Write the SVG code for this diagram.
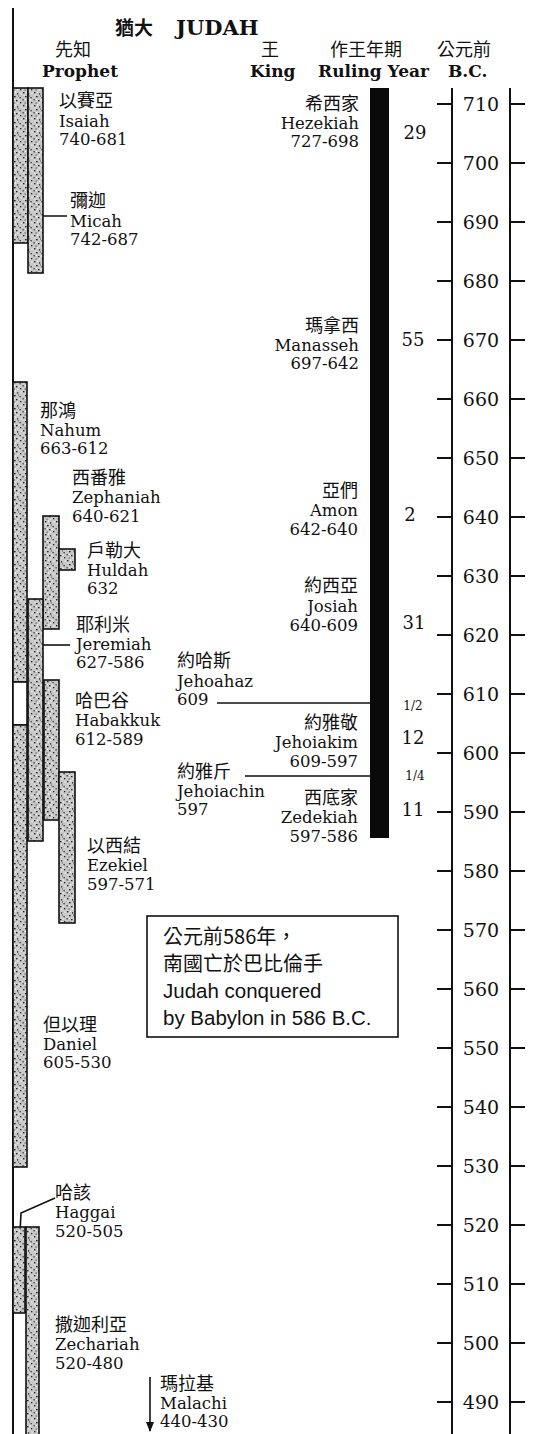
<svg xmlns="http://www.w3.org/2000/svg" width="540" height="1434" viewBox="0 0 540 1434">
<style>
.cn{font-family:"Noto Sans CJK TC","Noto Sans CJK SC",sans-serif;font-size:18px;fill:#111}
.en{font-family:"DejaVu Serif","Liberation Serif",serif;font-size:16.5px;fill:#111}
.hb{font-family:"DejaVu Serif","Liberation Serif",serif;font-weight:bold;font-size:17px;fill:#111}
.hc{font-family:"Noto Sans CJK TC","Noto Sans CJK SC",sans-serif;font-size:18px;fill:#111}
.yr{font-family:"DejaVu Serif","Liberation Serif",serif;font-size:19px;fill:#111;text-anchor:middle}
.ry{font-family:"DejaVu Serif","Liberation Serif",serif;font-size:18px;fill:#111;text-anchor:middle}
.rs{font-family:"DejaVu Serif","Liberation Serif",serif;font-size:12px;fill:#111;text-anchor:middle}
.r{text-anchor:end}
.bar{fill:url(#stip);stroke:#111;stroke-width:1.6}
.gap{fill:#fff;stroke:#111;stroke-width:1.6}
.ln{stroke:#111;stroke-width:1.6;fill:none}
.ax{stroke:#111;stroke-width:2;fill:none}
.nt{font-family:"Liberation Sans","Noto Sans CJK TC",sans-serif;font-size:20.5px;fill:#111}
.ntc{font-family:"Noto Sans CJK TC","Noto Sans CJK SC",sans-serif;font-size:20px;fill:#111}
</style>
<defs>
<pattern id="stip" width="11" height="13" patternUnits="userSpaceOnUse">
<rect width="11" height="13" fill="#c8c8c8"/>
<rect x="1" y="1" width="1.4" height="1.4" fill="#222"/>
<rect x="6" y="2" width="1.2" height="1.7" fill="#444"/>
<rect x="3" y="5" width="1.6" height="1.3" fill="#222"/>
<rect x="8.5" y="6" width="1.3" height="1.3" fill="#333"/>
<rect x="0.5" y="8" width="1.3" height="1.5" fill="#444"/>
<rect x="5" y="9" width="1.5" height="1.3" fill="#222"/>
<rect x="9" y="11" width="1.3" height="1.3" fill="#222"/>
<rect x="2.5" y="11.5" width="1.3" height="1.1" fill="#555"/>
<rect x="7" y="4.5" width="1" height="1" fill="#555"/>
<rect x="4" y="0.5" width="1.2" height="1.2" fill="#fff"/>
<rect x="9.5" y="1.5" width="1" height="1.2" fill="#fff"/>
<rect x="1.5" y="3.5" width="1.1" height="1" fill="#fff"/>
<rect x="7.5" y="8.5" width="1.2" height="1.2" fill="#fff"/>
<rect x="3" y="8" width="1" height="1" fill="#fff"/>
<rect x="6" y="11.5" width="1.2" height="1" fill="#fff"/>
</pattern>
<marker id="arr" markerWidth="10" markerHeight="8" refX="9" refY="4" orient="auto" markerUnits="userSpaceOnUse" viewBox="0 0 10 8">
<path d="M0,0 L10,4 L0,8 Z" fill="#111"/>
</marker>
</defs>

<g id="header">
<text x="115" y="35" class="hc" style="font-weight:bold;font-size:19px">猶大</text>
<text x="176" y="35" class="hb" style="font-size:21px">JUDAH</text>
<text x="55" y="56" class="hc">先知</text>
<text x="42" y="77" class="hb">Prophet</text>
<text x="261" y="56" class="hc">王</text>
<text x="250" y="77" class="hb">King</text>
<text x="330" y="56" class="hc">作王年期</text>
<text x="318" y="77" class="hb">Ruling Year</text>
<text x="437" y="56" class="hc">公元前</text>
<text x="448" y="77" class="hb">B.C.</text>
</g>

<g id="timeline">
<line class="ax" x1="13" y1="8" x2="13" y2="1434"/>
<line class="ax" x1="452" y1="88" x2="452" y2="1434"/>
<line class="ax" x1="510" y1="88" x2="510" y2="1434"/>
<path class="ax" d="M437 104H452M510 104H525M437 163H452M510 163H525M437 222H452M510 222H525M437 281H452M510 281H525M437 340H452M510 340H525M437 399H452M510 399H525M437 458H452M510 458H525M437 517H452M510 517H525M437 576H452M510 576H525M437 635H452M510 635H525M437 694H452M510 694H525M437 753H452M510 753H525M437 812H452M510 812H525M437 871H452M510 871H525M437 930H452M510 930H525M437 989H452M510 989H525M437 1048H452M510 1048H525M437 1107H452M510 1107H525M437 1166H452M510 1166H525M437 1225H452M510 1225H525M437 1284H452M510 1284H525M437 1343H452M510 1343H525M437 1402H452M510 1402H525"/>
<text class="yr" x="481" y="111">710</text>
<text class="yr" x="481" y="170">700</text>
<text class="yr" x="481" y="229">690</text>
<text class="yr" x="481" y="288">680</text>
<text class="yr" x="481" y="347">670</text>
<text class="yr" x="481" y="406">660</text>
<text class="yr" x="481" y="465">650</text>
<text class="yr" x="481" y="524">640</text>
<text class="yr" x="481" y="583">630</text>
<text class="yr" x="481" y="642">620</text>
<text class="yr" x="481" y="701">610</text>
<text class="yr" x="481" y="760">600</text>
<text class="yr" x="481" y="819">590</text>
<text class="yr" x="481" y="878">580</text>
<text class="yr" x="481" y="937">570</text>
<text class="yr" x="481" y="996">560</text>
<text class="yr" x="481" y="1055">550</text>
<text class="yr" x="481" y="1114">540</text>
<text class="yr" x="481" y="1173">530</text>
<text class="yr" x="481" y="1232">520</text>
<text class="yr" x="481" y="1291">510</text>
<text class="yr" x="481" y="1350">500</text>
<text class="yr" x="481" y="1409">490</text>
</g>

<g id="ruling-years">
<text class="ry" x="415" y="139">29</text>
<text class="ry" x="413" y="346">55</text>
<text class="ry" x="410" y="521">2</text>
<text class="ry" x="414" y="629">31</text>
<text class="rs" x="413" y="710">1/2</text>
<text class="ry" x="413" y="744">12</text>
<text class="rs" x="415" y="780">1/4</text>
<text class="ry" x="413" y="816">11</text>
</g>

<g id="king-bar">
<rect x="370" y="88" width="19" height="750" fill="#0a0a0a"/>
</g>

<g id="connectors">
<path class="ln" d="M22 216H67"/>
<path class="ln" d="M38 645H70"/>
<path class="ln" d="M20 1232L21 1213L55 1198"/>
<path class="ln" d="M217 703H370"/>
<path class="ln" d="M245 776H370"/>
<path class="ln" d="M150 1377V1431" marker-end="url(#arr)"/>
</g>

<g id="prophet-micah">
<rect class="bar" x="13" y="88" width="15" height="155"/>
<text class="cn" x="70" y="207">彌迦</text>
<text class="en" x="70" y="227">Micah</text>
<text class="en" x="70" y="245">742-687</text>
</g>
<g id="prophet-isaiah">
<rect class="bar" x="28" y="88" width="15" height="185"/>
<text class="cn" x="59" y="107">以賽亞</text>
<text class="en" x="59" y="127">Isaiah</text>
<text class="en" x="59" y="145">740-681</text>
</g>
<g id="prophet-nahum">
<rect class="bar" x="13" y="382" width="14" height="300"/>
<text class="cn" x="40" y="417">那鴻</text>
<text class="en" x="40" y="436">Nahum</text>
<text class="en" x="40" y="454">663-612</text>
</g>
<g id="prophet-zephaniah">
<rect class="bar" x="43" y="516" width="16" height="113"/>
<text class="cn" x="72" y="484">西番雅</text>
<text class="en" x="72" y="503">Zephaniah</text>
<text class="en" x="72" y="522">640-621</text>
</g>
<g id="prophet-huldah">
<rect class="bar" x="59" y="549" width="16" height="21"/>
<text class="cn" x="87" y="557">戶勒大</text>
<text class="en" x="87" y="576">Huldah</text>
<text class="en" x="87" y="594">632</text>
</g>
<g id="prophet-jeremiah">
<rect class="bar" x="28" y="599" width="15" height="242"/>
<text class="cn" x="76" y="631">耶利米</text>
<text class="en" x="76" y="650">Jeremiah</text>
<text class="en" x="76" y="668">627-586</text>
</g>
<g id="prophet-habakkuk">
<rect class="bar" x="44" y="680" width="15" height="140"/>
<text class="cn" x="75" y="707">哈巴谷</text>
<text class="en" x="75" y="726">Habakkuk</text>
<text class="en" x="75" y="745">612-589</text>
</g>
<g id="prophet-ezekiel">
<rect class="bar" x="59" y="772" width="16" height="151"/>
<text class="cn" x="87" y="852">以西結</text>
<text class="en" x="87" y="871">Ezekiel</text>
<text class="en" x="87" y="890">597-571</text>
</g>
<g id="prophet-daniel">
<rect class="gap" x="13" y="682" width="14" height="43"/>
<rect class="bar" x="13" y="725" width="14" height="442"/>
<text class="cn" x="43" y="1031">但以理</text>
<text class="en" x="43" y="1050">Daniel</text>
<text class="en" x="43" y="1068">605-530</text>
</g>
<g id="prophet-haggai">
<rect class="bar" x="13" y="1227" width="12" height="86"/>
<text class="cn" x="55" y="1199">哈該</text>
<text class="en" x="55" y="1218">Haggai</text>
<text class="en" x="55" y="1237">520-505</text>
</g>
<g id="prophet-zechariah">
<rect class="bar" x="26" y="1227" width="13" height="210"/>
<text class="cn" x="55" y="1331">撒迦利亞</text>
<text class="en" x="55" y="1350">Zechariah</text>
<text class="en" x="55" y="1369">520-480</text>
</g>
<g id="prophet-malachi">
<text class="cn" x="160" y="1390">瑪拉基</text>
<text class="en" x="160" y="1409">Malachi</text>
<text class="en" x="160" y="1427">440-430</text>
</g>

<g id="king-hezekiah">
<text class="cn r" x="359" y="110">希西家</text>
<text class="en r" x="359" y="129">Hezekiah</text>
<text class="en r" x="359" y="147">727-698</text>
</g>
<g id="king-manasseh">
<text class="cn r" x="359" y="332">瑪拿西</text>
<text class="en r" x="359" y="351">Manasseh</text>
<text class="en r" x="359" y="369">697-642</text>
</g>
<g id="king-amon">
<text class="cn r" x="358" y="497">亞們</text>
<text class="en r" x="358" y="516">Amon</text>
<text class="en r" x="358" y="535">642-640</text>
</g>
<g id="king-josiah">
<text class="cn r" x="358" y="592">約西亞</text>
<text class="en r" x="358" y="612">Josiah</text>
<text class="en r" x="358" y="631">640-609</text>
</g>
<g id="king-jehoahaz">
<text class="cn" x="177" y="667">約哈斯</text>
<text class="en" x="177" y="687">Jehoahaz</text>
<text class="en" x="177" y="705">609</text>
</g>
<g id="king-jehoiakim">
<text class="cn r" x="358" y="729">約雅敬</text>
<text class="en r" x="358" y="748">Jehoiakim</text>
<text class="en r" x="358" y="767">609-597</text>
</g>
<g id="king-jehoiachin">
<text class="cn" x="177" y="778">約雅斤</text>
<text class="en" x="177" y="797">Jehoiachin</text>
<text class="en" x="177" y="815">597</text>
</g>
<g id="king-zedekiah">
<text class="cn r" x="358" y="804">西底家</text>
<text class="en r" x="358" y="823">Zedekiah</text>
<text class="en r" x="358" y="842">597-586</text>
</g>

<g id="note">
<rect x="147" y="916" width="251" height="121" fill="#fff" stroke="#111" stroke-width="1.6"/>
<text class="ntc" x="163" y="944">公元前586年，</text>
<text class="ntc" x="163" y="971">南國亡於巴比倫手</text>
<text class="nt" x="163" y="998">Judah conquered</text>
<text class="nt" x="163" y="1025">by Babylon in 586 B.C.</text>
</g>
</svg>
